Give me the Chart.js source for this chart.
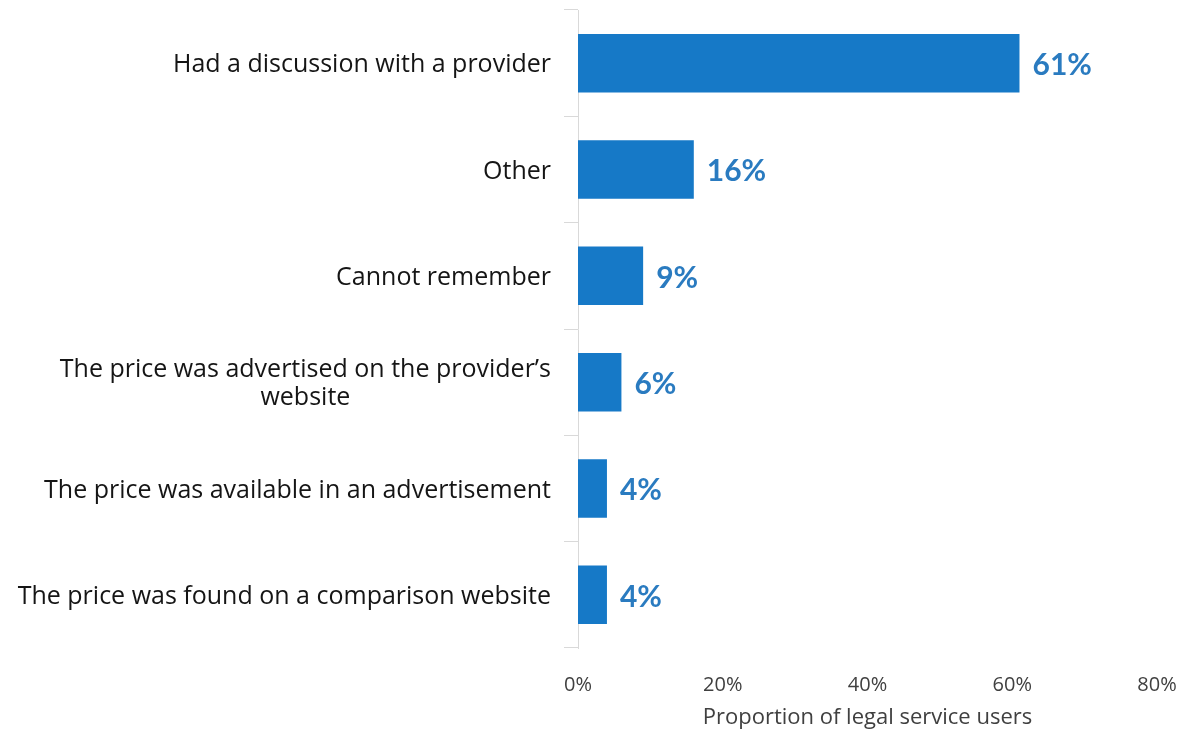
<!DOCTYPE html>
<html>
<head>
<meta charset="utf-8">
<script src="https://cdn.jsdelivr.net/npm/chart.js@4.4.1/dist/chart.umd.min.js"></script>
<style>
  html, body { margin: 0; padding: 0; background: #ffffff; }
  #wrap { width: 1184px; height: 731px; position: relative; }
</style>
</head>
<body>
<div id="wrap"><canvas id="chart" width="1184" height="731"></canvas></div>
<script>
// How the price of the legal service was found
const categories = [
  'Had a discussion with a provider',
  'Other',
  'Cannot remember',
  ['The price was advertised on the provider\u2019s', 'website'],
  'The price was available in an advertisement',
  'The price was found on a comparison website'
];
const shares = [61, 16, 9, 6, 4, 4];
const xTicks = [0, 20, 40, 60, 80];
const xTitle = 'Proportion of legal service users';

const TEXT_FONT = '"Open Sans", "DejaVu Sans", sans-serif';
const VALUE_FONT = 'Lato, "Open Sans", sans-serif';
const LABEL_SIZE = 25;
const BAR_BLUE = '#1679c7';
const LABEL_BLUE = '#2a7bc0';

// Bold percentage printed just past the end of each bar
const valueLabels = {
  id: 'valueLabels',
  afterDatasetsDraw(chart) {
    const { ctx } = chart;
    const meta = chart.getDatasetMeta(0);
    const values = chart.data.datasets[0].data;
    ctx.save();
    ctx.font = 'bold 30px ' + VALUE_FONT;
    ctx.fillStyle = LABEL_BLUE;
    ctx.textAlign = 'left';
    ctx.textBaseline = 'middle';
    meta.data.forEach((bar, i) => {
      ctx.fillText(values[i] + '%', bar.x + 13, bar.y + 2);
    });
    ctx.restore();
  }
};

// Wrapped category labels: lines centred on each other, block kept flush right
const centreWrappedLabels = {
  id: 'centreWrappedLabels',
  beforeDraw(chart) {
    const scale = chart.scales.y;
    const items = scale.getLabelItems(chart.chartArea);
    const { ctx } = chart;
    ctx.save();
    items.forEach(item => {
      if (!Array.isArray(item.label) || item.options.textAlign === 'center') return;
      ctx.font = item.font.string;
      const w = Math.max(...item.label.map(l => ctx.measureText(l).width));
      item.options.translation[0] -= w / 2;
      item.options.textAlign = 'center';
    });
    ctx.restore();
  }
};

new Chart(document.getElementById('chart'), {
  type: 'bar',
  data: {
    labels: categories,
    datasets: [{
      data: shares,
      backgroundColor: BAR_BLUE,
      borderWidth: 0,
      barPercentage: 0.55,
      categoryPercentage: 1.0
    }]
  },
  options: {
    indexAxis: 'y',
    responsive: false,
    animation: false,
    layout: { padding: { top: 10, left: 0, right: 27, bottom: 0 } },
    plugins: {
      legend: { display: false },
      tooltip: { enabled: false }
    },
    scales: {
      x: {
        min: 0,
        max: 80,
        afterBuildTicks(scale) {
          scale.ticks = xTicks.map(v => ({ value: v }));
        },
        afterFit(scale) {
          scale.height = 83;
          scale.paddingLeft = 0;
          scale.paddingRight = 0;
        },
        grid: { display: false },
        border: { display: false },
        ticks: {
          color: '#404040',
          font: { family: TEXT_FONT, size: 20 },
          padding: 17,
          callback: v => v + '%'
        },
        title: {
          display: true,
          text: xTitle,
          color: '#404040',
          font: { family: TEXT_FONT, size: 22 },
          padding: { top: 4, bottom: 0 }
        }
      },
      y: {
        afterFit(scale) {
          scale.width = 578;
          scale.paddingTop = 0;
          scale.paddingBottom = 0;
        },
        grid: {
          display: true,
          drawOnChartArea: false,
          drawTicks: true,
          tickLength: 14,
          tickColor: '#d9d9d9',
          color: '#d9d9d9',
          offset: true
        },
        border: { display: true, color: '#d9d9d9', width: 1 },
        ticks: {
          color: '#151515',
          font: { family: TEXT_FONT, size: LABEL_SIZE, lineHeight: 1.12 },
          padding: 13,
          labelOffset: 2,
          autoSkip: false
        }
      }
    }
  },
  plugins: [valueLabels, centreWrappedLabels]
});
</script>
</body>
</html>
